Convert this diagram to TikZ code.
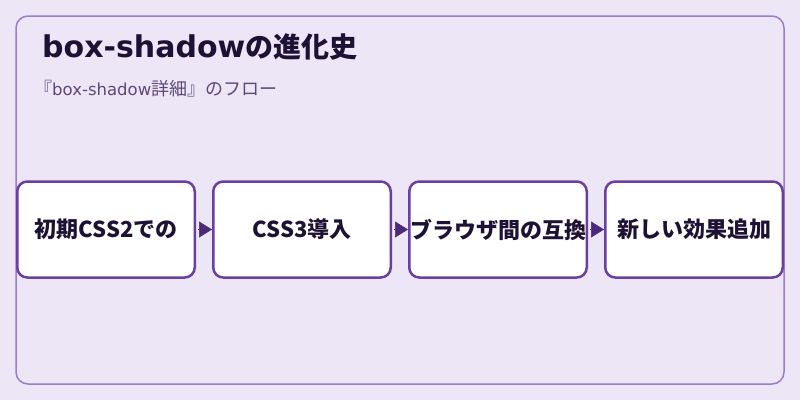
\documentclass[tikz,border=0pt]{standalone}
\usepackage{fontspec}
\setmainfont{Noto Sans CJK JP}
\newfontfamily\latinfont{DejaVu Sans}
\usepackage{tikz}
\usetikzlibrary{arrows.meta,positioning}
\definecolor{PageLilac}{RGB}{237,230,246}
\definecolor{FrameLilac}{RGB}{155,125,205}
\definecolor{StagePurple}{RGB}{107,63,160}
\definecolor{ArrowPurple}{RGB}{75,42,122}
\definecolor{InkDark}{RGB}{30,18,52}
\definecolor{SubInk}{RGB}{90,74,122}
\tikzset{
  stage/.style={draw=StagePurple, fill=white, line width=2.5pt, rounded corners=10pt,
                minimum width=177.5pt, minimum height=96pt, inner sep=0pt, align=center,
                font=\fontsize{22}{24}\selectfont\bfseries, text=InkDark},
  arr/.style={-{Triangle[length=13pt, width=16pt]}, line width=0.5pt, shorten <=2pt,
              color=ArrowPurple}
}

\begin{document}
\begin{tikzpicture}[x=1pt, y=-1pt, node distance=16pt]
\useasboundingbox[fill=PageLilac] (0,0) rectangle (800,400);
\draw[draw=FrameLilac, fill=PageLilac, line width=1.5pt, rounded corners=12pt]
  (16,16) rectangle (784,384);

\node[anchor=west, text=InkDark, font=\fontsize{28}{32}\selectfont\bfseries, inner sep=0pt]
  (title) at (42,47) {{\latinfont\fontsize{30}{32}\selectfont box-shadow}の進化史};
\node[anchor=west, text=SubInk, font=\fontsize{18}{20}\selectfont, inner sep=0pt]
  (subtitle) at (34,89) {『{\latinfont\fontsize{16.5}{18}\selectfont box-shadow}詳細』のフロー};

% flow of stages
\node[stage] (initial) at (106,229.5) {初期CSS2での};
\node[stage, right=of initial] (css3) {CSS3導入};
\node[stage, right=of css3] (compat) {ブラウザ間の互換};
\node[stage, right=of compat] (effects) {新しい効果追加};

\draw[arr] (initial) -- (css3);
\draw[arr] (css3) -- (compat);
\draw[arr] (compat) -- (effects);
\end{tikzpicture}
\end{document}
